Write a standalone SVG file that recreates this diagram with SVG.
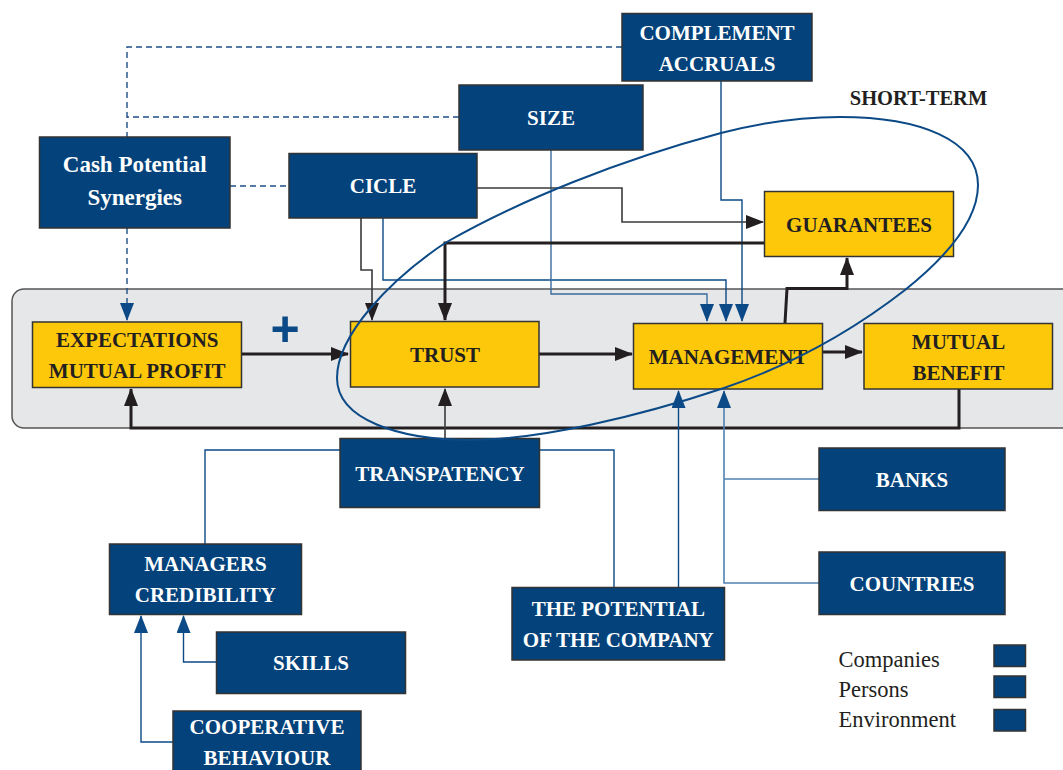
<svg xmlns="http://www.w3.org/2000/svg" width="1063" height="770" viewBox="0 0 1063 770">
<defs>
<marker id="ab" markerUnits="userSpaceOnUse" markerWidth="18" markerHeight="14" refX="17" refY="7" orient="auto"><path d="M0,0 L18,7 L0,14 Z" fill="#231f20"/></marker>
<marker id="au" markerUnits="userSpaceOnUse" markerWidth="18" markerHeight="14" refX="17" refY="7" orient="auto"><path d="M0,0 L18,7 L0,14 Z" fill="#0b4a86"/></marker>
<style>
.bb{fill:#03427a;stroke:#333;stroke-width:1.5}
.yb{fill:#fec80a;stroke:#333;stroke-width:1.5}
.tw{font-family:"Liberation Serif",serif;font-weight:bold;font-size:21px;fill:#fff;text-anchor:middle}
.td{font-family:"Liberation Serif",serif;font-weight:bold;font-size:21px;fill:#231f20;text-anchor:middle}
.lg{font-family:"Liberation Serif",serif;font-size:22.5px;fill:#231f20}
.dash{fill:none;stroke:#1d4f88;stroke-width:1.4;stroke-dasharray:6 4}
.blue{fill:none;stroke:#0b4a86;stroke-width:1.4}
.steel{fill:none;stroke:#3a6b9e;stroke-width:1.4}
.light{fill:none;stroke:#5282b1;stroke-width:1.6}
.thin{fill:none;stroke:#3a3a3a;stroke-width:1.6}
.thick{fill:none;stroke:#231f20;stroke-width:3}
</style>
</defs>
<rect x="12" y="289" width="1080" height="139" rx="12" fill="#e6e7e9" stroke="#555" stroke-width="1.5"/>
<g id="connectors">
<path class="dash" d="M622,47 H127 V137"/>
<path class="dash" d="M459,117 H127"/>
<path class="dash" d="M127,228 V320" marker-end="url(#au)"/>
<path class="dash" d="M230,186 H289"/>
<path class="thin" d="M361,218 V270 H372 V320" marker-end="url(#ab)"/>
<path class="blue" d="M383,218 V280 H726 V321" marker-end="url(#au)"/>
<path class="steel" d="M551,150 V294 H707 V321" marker-end="url(#au)"/>
<path class="blue" d="M721,81 V200 H742 V321" marker-end="url(#au)"/>
<path class="thin" d="M477,188 H622 V222 H763" marker-end="url(#ab)"/>
<path class="thick" d="M768,243 H445 V320" marker-end="url(#ab)"/>
<path class="thick" d="M242,354 H348" marker-end="url(#ab)"/>
<path class="thick" d="M539,354 H632" marker-end="url(#ab)"/>
<path class="thick" d="M822,352 H862" marker-end="url(#ab)"/>
<path class="thick" d="M785,323 L787,288.5 H847 V258" marker-end="url(#ab)"/>
<path class="thick" d="M959,389 V428 H131 V389" marker-end="url(#ab)"/>
<path class="thin" d="M445,438 V389" marker-end="url(#ab)"/>
<path class="blue" d="M340,450 H205 V544"/>
<path class="blue" d="M539,450 H614 V587"/>
<path class="blue" d="M678.5,587 V391" marker-end="url(#au)"/>
<path class="light" d="M819,479 H724 M819,583 H724 V391" marker-end="url(#au)"/>
<path class="blue" d="M216,662 H183.5 V616" marker-end="url(#au)"/>
<path class="blue" d="M173,742 H141 V616" marker-end="url(#au)"/>
</g>
<g id="complement"><rect class="bb" x="622" y="13.5" width="190" height="67.5"/><text class="tw" x="717" y="40">COMPLEMENT</text><text class="tw" x="717" y="70.5">ACCRUALS</text></g>
<g id="size"><rect class="bb" x="459" y="85" width="184" height="65"/><text class="tw" x="551" y="125">SIZE</text></g>
<g id="cash"><rect class="bb" x="39.5" y="137" width="190.5" height="91"/><text class="tw" style="font-size:23px" x="134.7" y="172">Cash Potential</text><text class="tw" style="font-size:23px" x="134.7" y="205">Synergies</text></g>
<g id="cicle"><rect class="bb" x="289" y="153.5" width="188" height="64.5"/><text class="tw" x="383" y="193">CICLE</text></g>
<g id="guarantees"><rect class="yb" x="764.5" y="191.5" width="189" height="65"/><text class="td" x="859" y="231.5">GUARANTEES</text></g>
<g id="expectations"><rect class="yb" x="32.5" y="322" width="209" height="65.5"/><text class="td" x="137.2" y="346.5">EXPECTATIONS</text><text class="td" x="137.2" y="377.5">MUTUAL PROFIT</text></g>
<g id="trust"><rect class="yb" x="350.5" y="321.5" width="188.5" height="65.5"/><text class="td" x="445" y="361.5">TRUST</text></g>
<g id="management"><rect class="yb" x="633.5" y="323.5" width="189" height="65.5"/><text class="td" x="728" y="364">MANAGEMENT</text></g>
<g id="mutual-benefit"><rect class="yb" x="864" y="323.5" width="188.5" height="65.5"/><text class="td" x="958.5" y="348.5">MUTUAL</text><text class="td" x="958.5" y="380">BENEFIT</text></g>
<g id="transpatency"><rect class="bb" x="340" y="438.5" width="199.5" height="69"/><text class="tw" x="440" y="480.5">TRANSPATENCY</text></g>
<g id="managers"><rect class="bb" x="109.5" y="544" width="192" height="70.5"/><text class="tw" x="205.4" y="571">MANAGERS</text><text class="tw" x="205.4" y="602.3">CREDIBILITY</text></g>
<g id="skills"><rect class="bb" x="216.5" y="632" width="189" height="61.5"/><text class="tw" x="311" y="670">SKILLS</text></g>
<g id="cooperative"><rect class="bb" x="173" y="711" width="188" height="70"/><text class="tw" x="267" y="734">COOPERATIVE</text><text class="tw" x="267" y="765">BEHAVIOUR</text></g>
<g id="potential"><rect class="bb" x="512" y="587.5" width="212.5" height="72.5"/><text class="tw" x="618.3" y="615.7">THE POTENTIAL</text><text class="tw" x="618.3" y="647.3">OF THE COMPANY</text></g>
<g id="banks"><rect class="bb" x="819" y="448" width="186" height="62.5"/><text class="tw" x="912" y="486.7">BANKS</text></g>
<g id="countries"><rect class="bb" x="819" y="552" width="186" height="62.5"/><text class="tw" x="912" y="590.7">COUNTRIES</text></g>
<text id="plus" x="285" y="345.5" font-family="Liberation Sans,sans-serif" font-weight="bold" font-size="50" fill="#0b4a86" text-anchor="middle">+</text>
<text id="short-term" class="td" x="918.5" y="105" style="font-size:20.5px">SHORT-TERM</text>
<path id="short-term-ellipse" d="M337,378 C337,335 390,280 445,243 C520,200 620,160 721,133 C760,123 800,117 840,117 C920,117 978,140 978,185 C978,215 955,250 905,290 C860,325 800,362 724,388 C640,416 540,440 470,440 C400,440 337,420 337,378 Z" fill="none" stroke="#0b4a86" stroke-width="2"/>
<g id="legend">
<text class="lg" x="838.5" y="666.7">Companies</text>
<text class="lg" x="838.5" y="696.7">Persons</text>
<text class="lg" x="838.5" y="727.3">Environment</text>
<rect class="bb" x="994" y="645" width="31.5" height="21.5"/>
<rect class="bb" x="994" y="676" width="31.5" height="21.5"/>
<rect class="bb" x="994" y="709.5" width="31.5" height="21.5"/>
</g>
</svg>
